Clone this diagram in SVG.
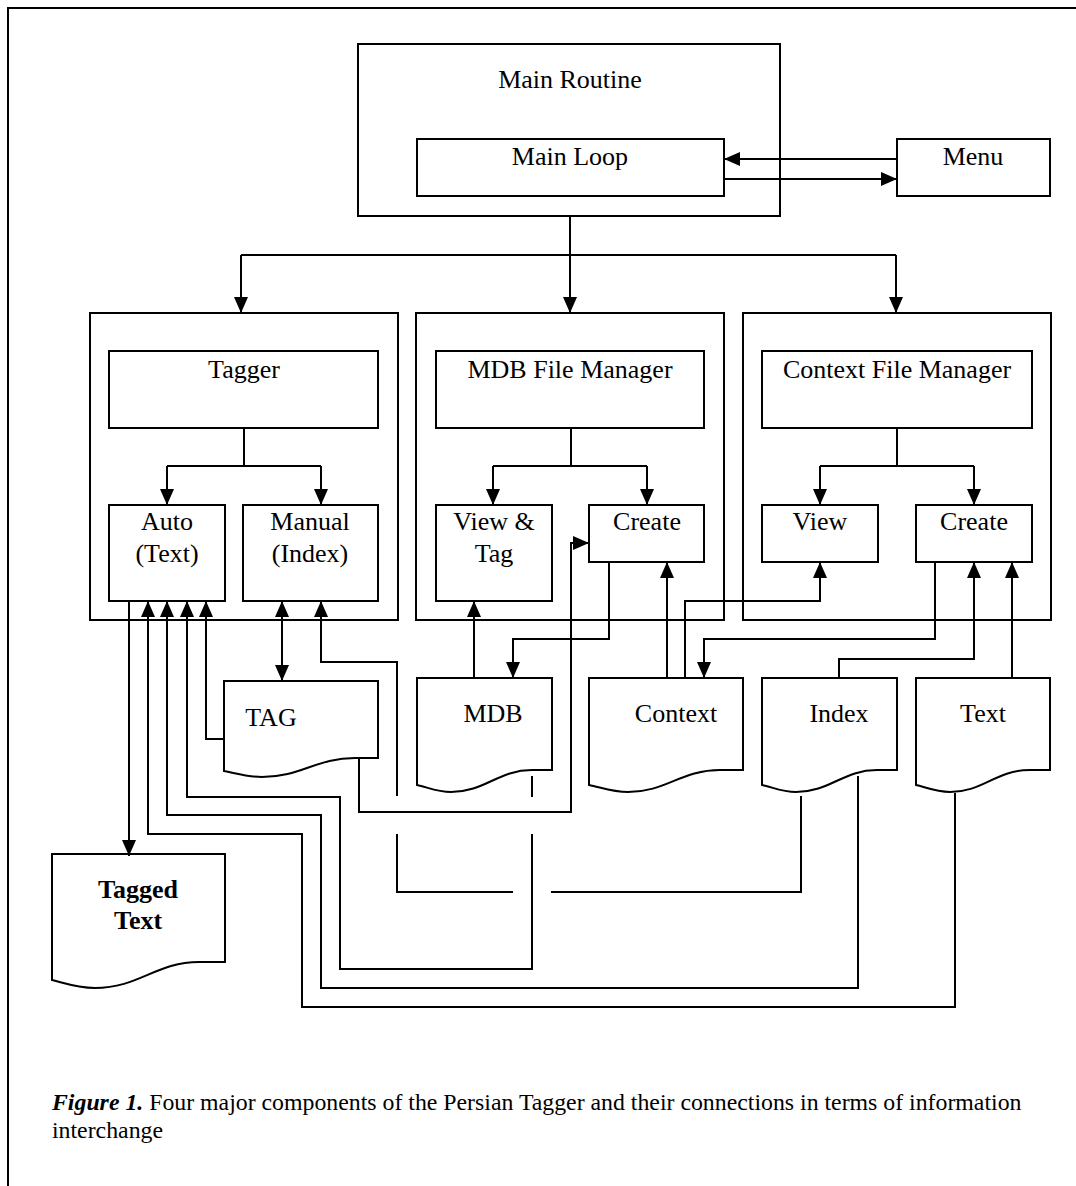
<svg xmlns="http://www.w3.org/2000/svg" width="1076" height="1186" viewBox="0 0 1076 1186">
<style>
.b{fill:#fff;stroke:#000;stroke-width:2}
.c{fill:none;stroke:#000;stroke-width:2}
.a{marker-end:url(#ah)}
.t{font-family:"Liberation Serif","Times New Roman",serif;font-size:26px;fill:#000;text-anchor:middle}
.bold{font-weight:bold}
.cap{font-family:"Liberation Serif","Times New Roman",serif;font-size:23.8px;fill:#000}
</style>
<defs>
<marker id="ah" viewBox="0 0 16 14" refX="16" refY="7" markerWidth="16" markerHeight="14" markerUnits="userSpaceOnUse" orient="auto-start-reverse">
<path d="M0,0 L16,7 L0,14 Z" fill="#000"/>
</marker>
</defs>
<rect width="1076" height="1186" fill="#fff"/>
<path d="M8,1186 V8 H1076" fill="none" stroke="#000" stroke-width="2"/>

<g id="main-routine">
<rect class="b" x="358" y="44" width="422" height="172"/>
<text class="t" x="570" y="88">Main Routine</text>
</g>
<g id="main-loop">
<rect class="b" x="417" y="139" width="307" height="57"/>
<text class="t" x="570" y="165">Main Loop</text>
</g>
<g id="menu">
<rect class="b" x="897" y="139" width="153" height="57"/>
<text class="t" x="973" y="165">Menu</text>
</g>

<g id="tagger-module">
<rect class="b" x="90" y="313" width="308" height="307"/>
</g>
<g id="tagger">
<rect class="b" x="109" y="351" width="269" height="77"/>
<text class="t" x="244" y="378">Tagger</text>
</g>
<g id="auto">
<rect class="b" x="109" y="505" width="116" height="96"/>
<text class="t" x="167" y="530">Auto</text>
<text class="t" x="167" y="562">(Text)</text>
</g>
<g id="manual">
<rect class="b" x="243" y="505" width="135" height="96"/>
<text class="t" x="310" y="530">Manual</text>
<text class="t" x="310" y="562">(Index)</text>
</g>

<g id="mdb-module">
<rect class="b" x="416" y="313" width="308" height="307"/>
</g>
<g id="mdb-file-manager">
<rect class="b" x="436" y="351" width="268" height="77"/>
<text class="t" x="570" y="378">MDB File Manager</text>
</g>
<g id="view-tag">
<rect class="b" x="436" y="505" width="116" height="96"/>
<text class="t" x="494" y="530">View &amp;</text>
<text class="t" x="494" y="562">Tag</text>
</g>
<g id="mdb-create">
<rect class="b" x="589" y="505" width="115" height="57"/>
<text class="t" x="647" y="530">Create</text>
</g>

<g id="context-module">
<rect class="b" x="743" y="313" width="308" height="307"/>
</g>
<g id="context-file-manager">
<rect class="b" x="762" y="351" width="270" height="77"/>
<text class="t" x="897" y="378">Context File Manager</text>
</g>
<g id="context-view">
<rect class="b" x="762" y="505" width="116" height="57"/>
<text class="t" x="820" y="530">View</text>
</g>
<g id="context-create">
<rect class="b" x="916" y="505" width="116" height="57"/>
<text class="t" x="974" y="530">Create</text>
</g>

<g id="tag-doc">
<path class="b" d="M224,681 H378 V758 H355 C316,758 301,777 262,777 C247,777 235,773 224,771 Z"/>
<text class="t" x="271" y="726">TAG</text>
</g>
<g id="mdb-doc">
<path class="b" d="M417,678 H552 V770 H532 C498,770 485,792 451,792 C437,792 427,787 417,785 Z"/>
<text class="t" x="493" y="722">MDB</text>
</g>
<g id="context-doc">
<path class="b" d="M589,678 H743 V770 H720 C681,770 666,792 628,792 C612,792 600,787 589,785 Z"/>
<text class="t" x="676" y="722">Context</text>
</g>
<g id="index-doc">
<path class="b" d="M762,678 H897 V770 H877 C843,770 830,792 796,792 C782,792 772,787 762,785 Z"/>
<text class="t" x="839" y="722">Index</text>
</g>
<g id="text-doc">
<path class="b" d="M916,678 H1050 V770 H1030 C996,770 983,792 950,792 C936,792 925,787 916,785 Z"/>
<text class="t" x="983" y="722">Text</text>
</g>
<g id="tagged-text-doc">
<path class="b" d="M52,854 H225 V962 H199 C156,962 139,988 95,988 C78,988 64,983 52,980 Z"/>
<text class="t bold" x="138" y="898">Tagged</text>
<text class="t bold" x="138" y="929">Text</text>
</g>

<g id="connectors">
<path class="c a" d="M897,159 H724"/>
<path class="c a" d="M724,179 H897"/>
<path class="c" d="M241,255 H896"/>
<path class="c a" d="M570,216 V313"/>
<path class="c a" d="M241,255 V313"/>
<path class="c a" d="M896,255 V313"/>

<path class="c" d="M244,428 V466 M167,466 H321"/>
<path class="c a" d="M167,466 V505"/>
<path class="c a" d="M321,466 V505"/>
<path class="c" d="M571,428 V466 M493,466 H647"/>
<path class="c a" d="M493,466 V505"/>
<path class="c a" d="M647,466 V505"/>
<path class="c" d="M897,428 V466 M820,466 H974"/>
<path class="c a" d="M820,466 V505"/>
<path class="c a" d="M974,466 V505"/>

<path class="c a" d="M129,601 V856"/>
<path class="c a" d="M955,793 V1007 H302 V834 H148 V601"/>
<path class="c a" d="M858,776 V988 H321 V815 H167 V601"/>
<path class="c" d="M532,776 V797"/>
<path class="c a" d="M532,834 V969 H340 V797 H187 V601"/>
<path class="c a" d="M224,739 H206 V601"/>
<path class="c" d="M801,796 V892 H551"/>
<path class="c" d="M513,892 H397 V834"/>
<path class="c a" d="M397,796 V662 H321 V601"/>
<path class="c a" d="M282,681 V601" style="marker-start:url(#ah)"/>
<path class="c a" d="M359,759 V812 H571 V543 H589"/>
<path class="c a" d="M609,562 V639 H513 V678"/>
<path class="c a" d="M474,678 V601"/>
<path class="c a" d="M667,678 V562"/>
<path class="c a" d="M685,678 V601 H820 V562"/>
<path class="c a" d="M935,562 V639 H704 V678"/>
<path class="c a" d="M839,678 V659 H974 V562"/>
<path class="c a" d="M1012,678 V562"/>
</g>

<text class="cap" x="52" y="1110"><tspan font-weight="bold" font-style="italic">Figure 1.</tspan> Four major components of the Persian Tagger and their connections in terms of information</text>
<text class="cap" x="52" y="1138">interchange</text>
</svg>
